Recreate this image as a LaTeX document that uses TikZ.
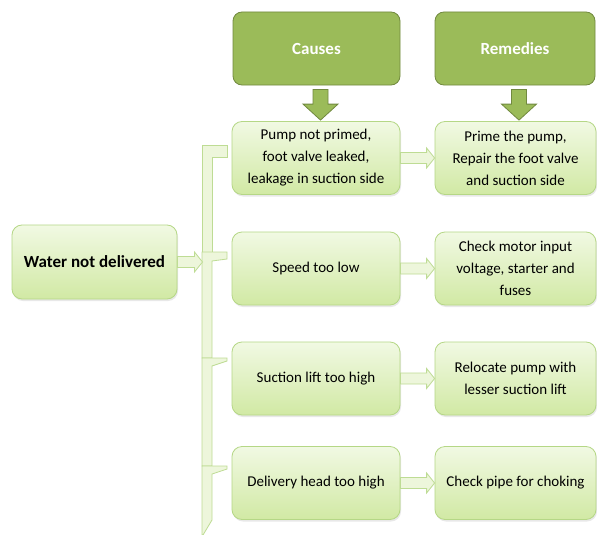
\documentclass[tikz,border=0pt]{standalone}
\usepackage{fontspec}
\setmainfont{Carlito}
\usetikzlibrary{calc,shadows}
\definecolor{olive}{HTML}{9BBB59}
\definecolor{olivedark}{HTML}{71893F}
\definecolor{paletop}{HTML}{F1F9E3}
\definecolor{palebot}{HTML}{D1E9A4}
\definecolor{paleedge}{HTML}{B5D786}
\definecolor{barfill}{HTML}{EDF6DB}
\definecolor{baredge}{HTML}{BEDC94}
\tikzset{
  hdr/.style={draw=olivedark, line width=0.8pt, fill=olive, rounded corners=9pt,
    minimum height=73pt, inner sep=0pt, text=white,
    font=\fontsize{17}{20}\selectfont\bfseries},
  item/.style={draw=paleedge, line width=0.8pt, top color=paletop, bottom color=palebot,
    rounded corners=10pt, minimum height=73pt, inner sep=0pt, align=center,
    drop shadow={opacity=0.18, shadow xshift=1pt, shadow yshift=-2pt},
    font=\fontsize{15}{22}\selectfont},
  blk/.style={draw=baredge, line width=0.8pt, fill=barfill},
  oblk/.style={draw=olivedark, line width=0.8pt, fill=olive},
  barpart/.style={draw=baredge, line width=0.8pt, fill=barfill}
}
% hollow block arrow pointing right, between two named nodes
\newcommand\rightblock[3][blk]{%
  \path[#1] let \p1=(#2), \p2=(#3) in
    (\x1,\y1+5.5pt) -- (\x2-8pt,\y1+5.5pt) -- (\x2-8pt,\y1+10pt) -- (\x2,\y1)
    -- (\x2-8pt,\y1-10pt) -- (\x2-8pt,\y1-5.5pt) -- (\x1,\y1-5.5pt) -- cycle;}
% solid block arrow pointing down, from a header to the box below it
\newcommand\downblock[2]{%
  \path[oblk] let \p1=(#1.south), \p2=(#2.north) in
    (\x1-3.5pt,\y1-4pt) -- (\x1-3.5pt,\y2+17pt) -- (\x1-13.5pt,\y2+17pt)
    -- (\x1+4pt,\y2+1pt) -- (\x1+21.5pt,\y2+17pt) -- (\x1+11.5pt,\y2+17pt)
    -- (\x1+11.5pt,\y1-4pt) -- cycle;}
\begin{document}
\begin{tikzpicture}[x=1pt,y=-1pt]
\useasboundingbox (0,0) rectangle (597,535);
\fill[white] (0,0) rectangle (597,535);

% column headers
\node[hdr, minimum width=167pt] (hc) at (316.5,48.5) {Causes};
\node[hdr, minimum width=160pt] (hr) at (515,48.5) {Remedies};

% bracket that collects the causes
\path[barpart] (202,145) -- (227,145) -- (227,157) -- (212,157) -- (212,252) -- (202,252) -- cycle;
\path[barpart] (202,252) -- (227,252) -- (227,259) -- (212,261) -- (212,358) -- (202,358) -- cycle;
\path[barpart] (202,358) -- (227,358) -- (227,361) -- (212,366) -- (212,466) -- (202,466) -- cycle;
\path[barpart] (202,466) -- (227,466) -- (227,469) -- (212,474) -- (212,520) -- (203,535) -- (202,535) -- cycle;
\coordinate (bar) at (202.5,262);

% problem
\node[item, minimum width=165pt, minimum height=74pt, font=\fontsize{17}{20}\selectfont\bfseries] (w) at (94.5,262) {Water not delivered};

% causes
\node[item, minimum width=168pt] (c1) at (316,158) {Pump not primed,\\foot valve leaked,\\leakage in suction side};
\node[item, minimum width=168pt] (c2) at (316,268.5) {Speed too low};
\node[item, minimum width=168pt] (c3) at (316,378.5) {Suction lift too high};
\node[item, minimum width=168pt] (c4) at (316,483) {Delivery head too high};

% remedies
\node[item, minimum width=161pt] (r1) at (515.5,158) {Prime the pump,\\Repair the foot valve\\and suction side};
\node[item, minimum width=161pt] (r2) at (515.5,268.5) {Check motor input\\voltage, starter and\\fuses};
\node[item, minimum width=161pt] (r3) at (515.5,378.5) {Relocate pump with\\lesser suction lift};
\node[item, minimum width=161pt] (r4) at (515.5,483) {Check pipe for choking};

% connectors
\downblock{hc}{c1}
\downblock{hr}{r1}
\rightblock{w.east}{bar}
\rightblock{c1.east}{r1.west}
\rightblock{c2.east}{r2.west}
\rightblock{c3.east}{r3.west}
\rightblock{c4.east}{r4.west}
\end{tikzpicture}
\end{document}
